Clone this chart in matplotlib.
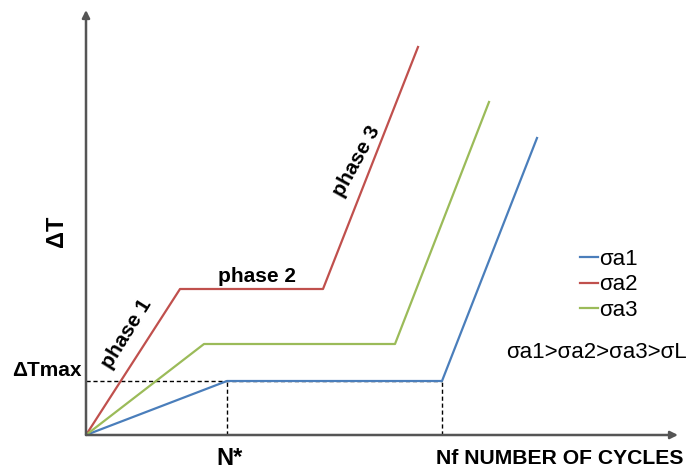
import matplotlib.pyplot as plt

plt.rcParams['font.family'] = ['Liberation Sans', 'DejaVu Sans']

# curve corners (arbitrary units, origin at axis crossing)
labels = ["σa1", "σa2", "σa3"]
colors = ["#4a7ebb", "#c0504d", "#9bbb59"]
curve_x = [[0, 141, 356, 451],
           [0, 94, 237, 332],
           [0, 118, 309, 403]]
curve_y = [[0, 54, 54, 297],
           [0, 146, 146, 388],
           [0, 91, 91, 333]]

n_star = 141
n_f = 356
dt_max = 54

W, H = 692, 473
fig = plt.figure(figsize=(W / 100, H / 100), dpi=100)
ax = fig.add_axes([86 / W, 38 / H, 592 / W, 425 / H])
ax.set_xlim(0, 592)
ax.set_ylim(0, 425)
ax.axis("off")

# axes with arrows
arrow = dict(arrowstyle="-|>", color="#555555", lw=1.8,
             mutation_scale=11, shrinkA=0, shrinkB=0)
ax.annotate("", xy=(592, 0), xytext=(0, 0), arrowprops=arrow)
ax.annotate("", xy=(0, 425), xytext=(0, 0), arrowprops=arrow)

# dashed guides
dash = dict(color="black", lw=1, dashes=(3, 2))
ax.plot([0, n_f], [dt_max, dt_max], **dash)
ax.plot([n_star, n_star], [0, dt_max], **dash)
ax.plot([n_f, n_f], [0, dt_max], **dash)

for xs, ys, c, lab in zip(curve_x, curve_y, colors, labels):
    ax.plot(xs, ys, color=c, lw=1.6, label=lab)

ax.legend(loc="center left", bbox_to_anchor=(494 / 592, 150 / 425),
          frameon=False, handlelength=0.8, handletextpad=0.05,
          labelspacing=0.2, fontsize=16, borderpad=0, borderaxespad=0)

# text
fig.text(56 / W, 1 - 231 / H, "ΔT", fontsize=17, fontweight="bold",
         rotation=90, ha="center", va="center")
fig.text(47 / W, 1 - 370 / H, "ΔTmax", fontsize=15, fontweight="bold",
         ha="center", va="center")
fig.text(230 / W, 1 - 458 / H, "N*", fontsize=17, fontweight="bold",
         ha="center", va="center")
fig.text(436 / W, 1 - 458 / H, "Nf NUMBER OF CYCLES", fontsize=15.2,
         fontweight="bold", ha="left", va="center")
fig.text(127 / W, 1 - 334 / H, "phase 1", fontsize=15, fontweight="bold",
         rotation=58, ha="center", va="center")
fig.text(257 / W, 1 - 277 / H, "phase 2", fontsize=15, fontweight="bold",
         ha="center", va="center")
fig.text(357 / W, 1 - 161 / H, "phase 3", fontsize=15, fontweight="bold",
         rotation=61, ha="center", va="center")
fig.text(596 / W, 1 - 352 / H, "σa1>σa2>σa3>σL", fontsize=16,
         ha="center", va="center")

fig.savefig("out.png", dpi=100)
